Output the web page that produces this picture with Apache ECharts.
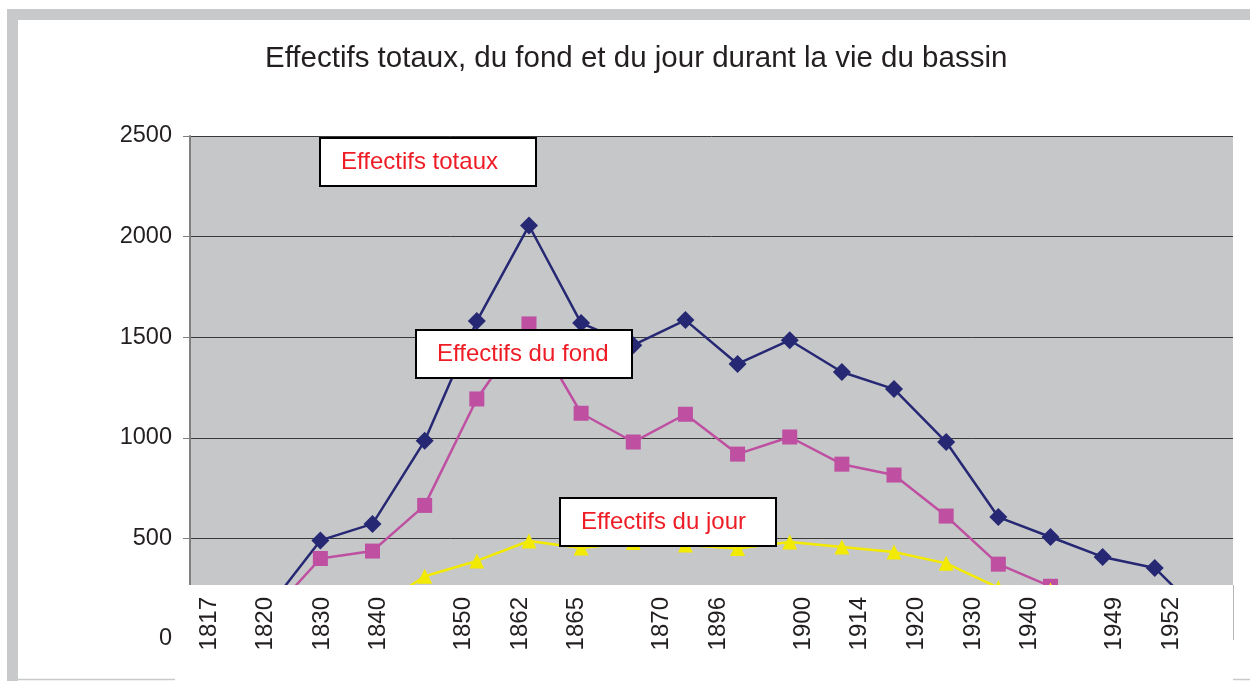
<!DOCTYPE html>
<html>
<head>
<meta charset="utf-8">
<script src="https://cdn.jsdelivr.net/npm/echarts@6/dist/echarts.min.js"></script>
<style>
  html, body { margin: 0; padding: 0; background: #fff; }
  #chart { width: 1250px; height: 681px; }
</style>
</head>
<body>
<div id="chart"></div>
<script>
// labels of the hand-placed year box under the plot, and the slot each one sits in
const yearLabels = ['1817', '1820', '1830', '1840', '1850', '1862', '1865', '1870', '1896', '1900', '1914', '1920', '1930', '1940', '1949', '1952']
const yearSlots = [0, 2, 4, 6, 9, 11, 13, 16, 18, 21, 23, 25, 27, 29, 32, 34]

// 20 data points along the plot
const pointNames = ['p1', 'p2', 'p3', 'p4', 'p5', 'p6', 'p7', 'p8', 'p9', 'p10', 'p11', 'p12', 'p13', 'p14', 'p15', 'p16', 'p17', 'p18', 'p19', 'p20']
const totaux = [90, 155, 490, 572, 985, 1580, 2055, 1570, 1460, 1585, 1367, 1485, 1327, 1242, 979, 606, 507, 408, 353, 95]
const fond = [60, 115, 400, 437, 664, 1193, 1566, 1122, 979, 1117, 919, 1004, 869, 815, 611, 372, 262, 230, 200, 50]
const jour = [30, 40, 92, 140, 312, 388, 487, 452, 480, 467, 450, 482, 457, 432, 376, 255, 243, 180, 150, 45]

const yTicks = { min: 0, max: 2500, interval: 500 }

const slotCount = 35
const slotLabels = new Array(slotCount).fill('')
yearSlots.forEach((s, i) => { slotLabels[s] = yearLabels[i] })

const font = '"Liberation Sans", Arial, sans-serif'
const chart = echarts.init(document.getElementById('chart'))

function noteBox(x, y, text) {
  return {
    type: 'group',
    z: 100,
    children: [
      { type: 'rect', shape: { x: x, y: y, width: 216, height: 48 }, style: { fill: '#fff', stroke: '#000', lineWidth: 2 }, z: 100 },
      { type: 'text', x: x + 21, y: y + 24, style: { text: text, fill: '#ee1c25', font: '24px ' + font, textVerticalAlign: 'middle' }, z: 101 }
    ]
  }
}

chart.setOption({
  animation: false,
  backgroundColor: '#fff',
  title: {
    text: 'Effectifs totaux, du fond et du jour durant la vie du bassin',
    left: 260,
    top: 39,
    textStyle: { fontFamily: font, fontSize: 29.5, fontWeight: 'normal', color: '#231f20' }
  },
  grid: [
    { left: 190, top: 136, right: 17, bottom: 42, show: true, backgroundColor: '#c6c7c9', borderWidth: 0 },
    { left: 209, width: 962, top: 560, height: 32, show: false }
  ],
  xAxis: [
    {
      type: 'category',
      gridIndex: 0,
      data: pointNames,
      boundaryGap: true,
      axisLine: { show: false },
      axisTick: { show: false },
      axisLabel: { show: false }
    },
    {
      type: 'category',
      gridIndex: 1,
      data: slotLabels,
      boundaryGap: false,
      z: 200,
      axisLine: { show: false },
      axisTick: { show: false },
      axisLabel: {
        interval: 0,
        rotate: 90,
        margin: 5,
        fontSize: 24,
        fontFamily: font,
        color: '#231f20'
      }
    }
  ],
  yAxis: [
    {
      type: 'value',
      gridIndex: 0,
      min: yTicks.min,
      max: yTicks.max,
      interval: yTicks.interval,
      axisLine: { show: true, lineStyle: { color: '#808080', width: 2 } },
      axisTick: { show: true, length: 7, lineStyle: { color: '#808080' } },
      axisLabel: { margin: 18, fontSize: 23.5, fontFamily: font, color: '#231f20', formatter: v => String(v) },
      splitLine: { show: true, lineStyle: { color: '#3a3a3a', width: 1 } }
    },
    { type: 'value', gridIndex: 1, show: false }
  ],
  series: [
    {
      name: 'Effectifs totaux',
      type: 'line',
      data: totaux,
      symbol: 'diamond',
      symbolSize: [18, 18],
      lineStyle: { color: '#262873', width: 2.5 },
      itemStyle: { color: '#262873' }
    },
    {
      name: 'Effectifs du fond',
      type: 'line',
      data: fond,
      symbol: 'rect',
      symbolSize: 15,
      lineStyle: { color: '#be4fa1', width: 2.5 },
      itemStyle: { color: '#be4fa1' }
    },
    {
      name: 'Effectifs du jour',
      type: 'line',
      data: jour,
      symbol: 'triangle',
      symbolSize: 15,
      lineStyle: { color: '#f2ea00', width: 2.5 },
      itemStyle: { color: '#f2ea00' }
    }
  ],
  graphic: [
    // grey frame
    { type: 'rect', shape: { x: 7, y: 9, width: 1243, height: 11 }, style: { fill: '#c8c9cb' }, z: 100 },
    { type: 'rect', shape: { x: 7, y: 9, width: 11, height: 672 }, style: { fill: '#c8c9cb' }, z: 100 },
    { type: 'line', shape: { x1: 18, y1: 679.5, x2: 175, y2: 679.5 }, style: { stroke: '#c8c9cb', lineWidth: 1.5 }, z: 100 },
    { type: 'line', shape: { x1: 1233, y1: 679.5, x2: 1250, y2: 679.5 }, style: { stroke: '#c8c9cb', lineWidth: 1.5 }, z: 100 },
    // white box for the year labels
    { type: 'rect', shape: { x: 178, y: 585, width: 1055, height: 58 }, style: { fill: '#fff' }, z: 100 },
    { type: 'line', shape: { x1: 1233.5, y1: 585, x2: 1233.5, y2: 640 }, style: { stroke: '#b5b5b5', lineWidth: 1 }, z: 100 },
    // annotation boxes
    noteBox(320, 138, 'Effectifs totaux'),
    noteBox(416, 330, 'Effectifs du fond'),
    noteBox(560, 498, 'Effectifs du jour')
  ]
})
</script>
</body>
</html>
